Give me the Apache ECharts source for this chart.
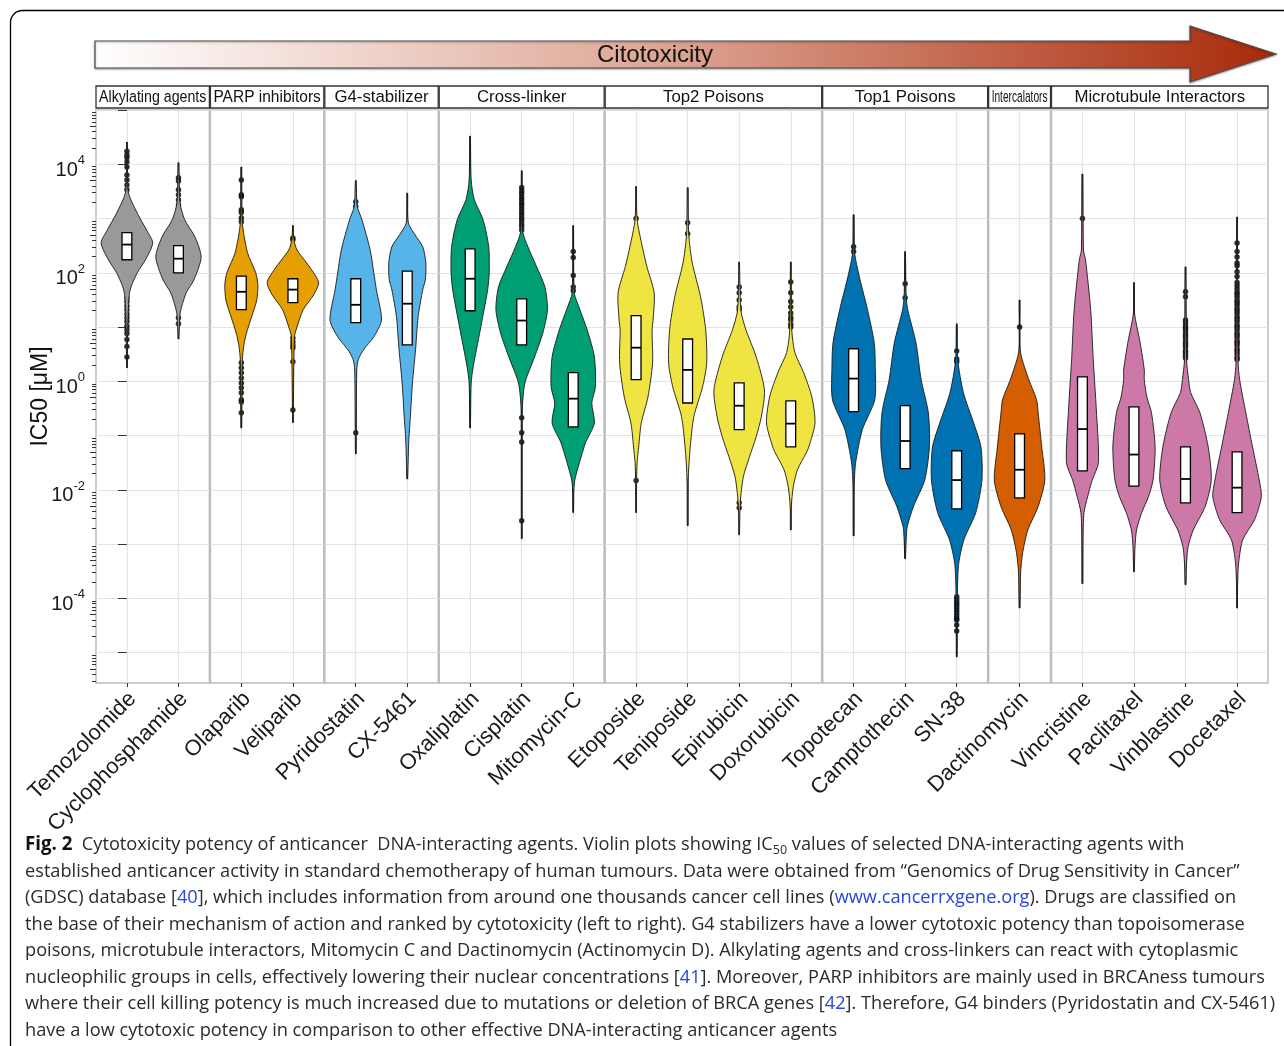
<!DOCTYPE html>
<html>
<head>
<meta charset="utf-8">
<title>Cytotoxicity potency of DNA-interacting agents</title>
<script src="https://cdn.jsdelivr.net/npm/echarts@6/dist/echarts.min.js"></script>
<style>
  html, body { margin: 0; padding: 0; background: #fff; }
  #chart { width: 1284px; height: 1046px; }
</style>
</head>
<body>
<div id="chart"></div>
<script>
// drugs in plotting order (left to right)
const drugs = ['Temozolomide', 'Cyclophosphamide', 'Olaparib', 'Veliparib', 'Pyridostatin', 'CX-5461',
  'Oxaliplatin', 'Cisplatin', 'Mitomycin-C', 'Etoposide', 'Teniposide', 'Epirubicin', 'Doxorubicin',
  'Topotecan', 'Camptothecin', 'SN-38', 'Dactinomycin', 'Vincristine', 'Paclitaxel', 'Vinblastine', 'Docetaxel'];

const facetNames = ['Alkylating agents', 'PARP inhibitors', 'G4-stabilizer', 'Cross-linker',
  'Top2 Poisons', 'Top1 Poisons', 'Intercalators', 'Microtubule Interactors'];
const facetSizes = [2, 2, 2, 3, 4, 3, 1, 4];
const facetColors = ['#999999', '#E69F00', '#56B4E9', '#009E73', '#F0E442', '#0072B2', '#D55E00', '#CC79A7'];

// all values are log10(IC50 / uM)
// [q1, median, q3]
const boxLog = [
  [2.24, 2.52, 2.74], [2.00, 2.26, 2.50], [1.32, 1.65, 1.94], [1.45, 1.69, 1.89],
  [1.08, 1.41, 1.89], [0.67, 1.43, 2.03], [1.30, 1.89, 2.44], [0.67, 1.12, 1.52],
  [-0.84, -0.32, 0.16], [0.03, 0.62, 1.21], [-0.40, 0.21, 0.78], [-0.89, -0.45, -0.03],
  [-1.21, -0.78, -0.36], [-0.56, 0.05, 0.60], [-1.61, -1.10, -0.45], [-2.35, -1.82, -1.28],
  [-2.15, -1.63, -0.97], [-1.65, -0.88, 0.08], [-1.93, -1.35, -0.47], [-2.24, -1.80, -1.21],
  [-2.42, -1.96, -1.30]
];

// [min, max]
const rangeLog = [
  [0.25, 4.41], [0.78, 4.03], [-0.86, 3.95], [-0.76, 2.87], [-1.34, 3.70], [-1.80, 3.47],
  [-0.86, 4.52], [-2.90, 3.88], [-2.42, 2.87], [-2.42, 3.59], [-2.66, 3.57], [-2.83, 2.20],
  [-2.74, 2.20], [-2.85, 3.07], [-3.27, 2.39], [-5.08, 1.06], [-4.18, 1.50], [-3.73, 3.82],
  [-3.51, 1.82], [-3.75, 2.11], [-4.18, 3.03]
];

const outlierLog = [
  [4.24, 4.17, 4.12, 4.04, 3.95, 3.80, 3.71, 3.62, 3.53, 1.54, 1.47, 1.39, 1.32, 1.24, 1.17, 1.10, 1.02, 0.95, 0.88, 0.77, 0.64, 0.45],
  [3.75, 3.69, 3.53, 3.44, 3.34, 3.25, 1.17, 1.06],
  [3.71, 3.44, 3.40, 3.16, 3.11, 3.01, 2.94, 0.34, 0.25, 0.16, 0.06, -0.03, -0.12, -0.21, -0.34, -0.38, -0.58],
  [2.64, 2.61, 0.80, 0.73, 0.67, 0.62, 0.36, -0.53],
  [3.31, 3.22, -0.95],
  [],
  [],
  [3.57, 3.51, 3.46, 3.40, 3.35, 3.29, 3.24, 3.18, 3.12, 3.07, 3.01, 2.96, 2.90, 2.85, 2.79, -0.67, -0.95, -1.12, -2.57],
  [2.39, 2.28, 1.95, 1.74, 1.67],
  [3.00, -1.83],
  [2.92, 2.72],
  [1.74, 1.63, 1.50, 1.37, 1.32, -2.24, -2.33],
  [1.83, 1.63, 1.47, 1.37, 1.26, 1.18, 1.13, 1.05, 1.00],
  [2.48, 2.39],
  [1.80, 1.54],
  [0.56, 0.41, 0.36, -3.97, -4.02, -4.07, -4.12, -4.17, -4.22, -4.27, -4.32, -4.37, -4.40, -4.49, -4.60],
  [1.00],
  [3.00],
  [],
  [1.65, 1.56, 1.13, 1.08, 1.02, 0.98, 0.93, 0.87, 0.83, 0.78, 0.72, 0.68, 0.63, 0.57, 0.53, 0.48, 0.43],
  [2.55, 2.39, 2.29, 2.18, 2.13, 2.02, 1.93, 1.82, 1.76, 1.70, 1.64, 1.60, 1.55, 1.49, 1.45, 1.40, 1.34, 1.30,
   1.25, 1.19, 1.15, 1.10, 1.04, 1.00, 0.95, 0.89, 0.85, 0.80, 0.74, 0.70, 0.65, 0.59, 0.55, 0.50, 0.44, 0.40]
];

// violin outline: [log10 value, half width in category units], top to bottom
const violinShape = [
  [[4.41, 0.005], [3.90, 0.01], [3.47, 0.03], [3.10, 0.2], [2.79, 0.38], [2.55, 0.5], [2.24, 0.36], [2.00, 0.2], [1.74, 0.08], [1.56, 0.04], [0.95, 0.015], [0.25, 0.005]],
  [[4.03, 0.005], [3.29, 0.03], [2.98, 0.12], [2.66, 0.32], [2.29, 0.44], [1.87, 0.3], [1.63, 0.15], [1.37, 0.06], [1.23, 0.03], [0.78, 0.005]],
  [[3.95, 0.005], [2.92, 0.02], [2.37, 0.12], [2.00, 0.28], [1.78, 0.32], [1.50, 0.3], [1.19, 0.2], [0.89, 0.1], [0.67, 0.05], [0.40, 0.02], [-0.86, 0.005]],
  [[2.87, 0.005], [2.61, 0.02], [2.42, 0.08], [2.24, 0.22], [2.06, 0.36], [1.82, 0.5], [1.59, 0.4], [1.32, 0.2], [1.00, 0.08], [0.82, 0.03], [-0.76, 0.005]],
  [[3.70, 0.005], [3.22, 0.03], [2.98, 0.12], [2.42, 0.28], [2.00, 0.35], [1.69, 0.4], [1.13, 0.5], [0.82, 0.35], [0.58, 0.15], [0.40, 0.05], [0.21, 0.02], [-1.34, 0.005]],
  [[3.47, 0.005], [2.92, 0.02], [2.70, 0.15], [2.48, 0.3], [2.18, 0.36], [1.87, 0.35], [1.69, 0.3], [1.19, 0.21], [0.58, 0.16], [-0.03, 0.1], [-0.65, 0.06], [-1.08, 0.03], [-1.80, 0.005]],
  [[4.52, 0.005], [3.71, 0.02], [3.35, 0.08], [2.98, 0.25], [2.48, 0.36], [2.00, 0.37], [1.69, 0.34], [1.37, 0.28], [0.77, 0.16], [0.27, 0.06], [-0.03, 0.02], [-0.86, 0.005]],
  [[3.88, 0.005], [2.76, 0.02], [2.48, 0.12], [2.11, 0.29], [1.74, 0.45], [1.32, 0.5], [0.89, 0.41], [0.45, 0.25], [0.03, 0.08], [-0.16, 0.04], [-0.53, 0.01], [-2.90, 0.005]],
  [[2.87, 0.005], [1.63, 0.02], [1.37, 0.11], [0.95, 0.27], [0.45, 0.41], [-0.10, 0.43], [-0.40, 0.36], [-0.77, 0.41], [-1.13, 0.24], [-1.50, 0.12], [-1.82, 0.03], [-2.06, 0.01], [-2.42, 0.005]],
  [[3.59, 0.005], [2.98, 0.02], [2.48, 0.12], [2.11, 0.21], [1.63, 0.35], [1.13, 0.33], [0.95, 0.31], [0.34, 0.32], [-0.29, 0.23], [-0.77, 0.1], [-1.21, 0.05], [-1.50, 0.02], [-1.82, 0.01], [-2.42, 0.005]],
  [[3.57, 0.005], [2.72, 0.02], [2.18, 0.09], [1.56, 0.25], [0.95, 0.35], [0.34, 0.37], [-0.10, 0.29], [-0.65, 0.12], [-1.21, 0.05], [-1.82, 0.01], [-2.66, 0.005]],
  [[2.20, 0.005], [1.50, 0.02], [1.26, 0.04], [0.95, 0.13], [0.45, 0.33], [-0.16, 0.49], [-0.65, 0.43], [-1.02, 0.33], [-1.39, 0.2], [-1.76, 0.08], [-2.24, 0.02], [-2.83, 0.005]],
  [[2.20, 0.005], [0.95, 0.02], [0.53, 0.08], [0.16, 0.25], [-0.29, 0.41], [-0.77, 0.47], [-1.21, 0.35], [-1.32, 0.3], [-1.63, 0.13], [-1.94, 0.05], [-2.31, 0.01], [-2.74, 0.005]],
  [[3.07, 0.005], [2.37, 0.02], [1.93, 0.11], [1.32, 0.27], [0.71, 0.4], [0.27, 0.42], [-0.34, 0.41], [-0.89, 0.17], [-1.50, 0.04], [-1.94, 0.01], [-2.85, 0.005]],
  [[2.39, 0.005], [1.56, 0.02], [1.32, 0.05], [0.71, 0.21], [0.03, 0.31], [-0.58, 0.45], [-1.21, 0.47], [-1.82, 0.38], [-2.31, 0.16], [-2.68, 0.04], [-2.92, 0.02], [-3.27, 0.005]],
  [[1.06, 0.005], [0.40, 0.02], [-0.21, 0.13], [-0.77, 0.33], [-1.21, 0.47], [-1.82, 0.49], [-2.42, 0.37], [-2.92, 0.14], [-3.35, 0.04], [-3.79, 0.015], [-4.40, 0.008], [-5.08, 0.005]],
  [[1.50, 0.005], [0.58, 0.01], [0.08, 0.16], [-0.34, 0.33], [-0.58, 0.36], [-1.21, 0.43], [-1.82, 0.49], [-2.31, 0.36], [-2.74, 0.16], [-3.16, 0.06], [-3.53, 0.02], [-4.18, 0.005]],
  [[3.82, 0.005], [2.42, 0.02], [2.24, 0.06], [1.32, 0.16], [0.40, 0.21], [-0.53, 0.27], [-1.50, 0.31], [-1.82, 0.19], [-2.13, 0.1], [-2.42, 0.03], [-2.92, 0.01], [-3.73, 0.005]],
  [[1.82, 0.005], [1.26, 0.01], [0.71, 0.12], [0.21, 0.2], [0.03, 0.2], [-0.29, 0.25], [-0.58, 0.34], [-1.21, 0.41], [-1.82, 0.37], [-2.13, 0.28], [-2.42, 0.15], [-2.74, 0.05], [-3.05, 0.02], [-3.51, 0.005]],
  [[2.11, 0.005], [0.40, 0.02], [0.03, 0.06], [-0.21, 0.1], [-0.58, 0.28], [-1.21, 0.44], [-1.82, 0.5], [-2.31, 0.38], [-2.74, 0.15], [-3.05, 0.05], [-3.35, 0.02], [-3.75, 0.005]],
  [[3.03, 0.005], [0.36, 0.02], [0.03, 0.05], [-0.58, 0.17], [-1.21, 0.3], [-1.82, 0.43], [-2.13, 0.47], [-2.55, 0.34], [-2.92, 0.11], [-3.35, 0.03], [-3.79, 0.01], [-4.18, 0.005]]
];

// y axis: decade ticks, labelled every second decade
const yTickExp = [-5, -4, -3, -2, -1, 0, 1, 2, 3, 4, 5];
const yLabelExp = [-4, -2, 0, 2, 4];
const yRangeExp = [-5.56, 5.0];

const captionLines = [
  '{b|Fig. 2}  Cytotoxicity potency of anticancer  DNA-interacting agents. Violin plots showing IC{sub|50} values of selected DNA-interacting agents with',
  'established anticancer activity in standard chemotherapy of human tumours. Data were obtained from “Genomics of Drug Sensitivity in Cancer”',
  '(GDSC) database [{a|40}], which includes information from around one thousands cancer cell lines ({a|www.cancerrxgene.org}). Drugs are classified on',
  'the base of their mechanism of action and ranked by cytotoxicity (left to right). G4 stabilizers have a lower cytotoxic potency than topoisomerase',
  'poisons, microtubule interactors, Mitomycin C and Dactinomycin (Actinomycin D). Alkylating agents and cross-linkers can react with cytoplasmic',
  'nucleophilic groups in cells, effectively lowering their nuclear concentrations [{a|41}]. Moreover, PARP inhibitors are mainly used in BRCAness tumours',
  'where their cell killing potency is much increased due to mutations or deletion of BRCA genes [{a|42}]. Therefore, G4 binders (Pyridostatin and CX-5461)',
  'have a low cytotoxic potency in comparison to other effective DNA-interacting anticancer agents'
];

const chart = echarts.init(document.getElementById('chart'));

const LEFT = 96, RIGHT = 1268, TOP = 110, BOTTOM = 683, GAP = 1;
const FONT = 'Liberation Sans, Arial, sans-serif';
const STRIP_FONT = 16.8;
const CAP_FONT = 18.2;
const totalUnits = facetSizes.reduce((s, n) => s + n + 0.2, 0);
const unit = (RIGHT - LEFT - GAP * (facetSizes.length - 1)) / totalUnits;
const yMin = Math.pow(10, yRangeExp[0]), yMax = Math.pow(10, yRangeExp[1]);
const pow10 = v => Math.pow(10, v);

// strip labels are squeezed horizontally when they do not fit their box
const measureCtx = document.createElement('canvas').getContext('2d');
measureCtx.font = STRIP_FONT + 'px ' + FONT;

function drawViolin(params, api, color) {
  const lx = api.value(0);
  const g = api.value(2);
  const pt = (dx, lv) => api.coord([lx + dx, pow10(lv)]);
  const shape = violinShape[g];
  const outline = shape.map(p => pt(p[1], p[0]))
    .concat(shape.slice().reverse().map(p => pt(-p[1], p[0])));
  const b = boxLog[g];
  const tl = pt(-0.095, b[2]), br = pt(0.095, b[0]);
  const m1 = pt(-0.095, b[1]), m2 = pt(0.095, b[1]);
  const top = pt(0, rangeLog[g][1]), bot = pt(0, rangeLog[g][0]);
  return {
    type: 'group',
    children: [
      { type: 'line', shape: { x1: top[0], y1: top[1], x2: bot[0], y2: bot[1] }, style: { stroke: '#000', lineWidth: 1.6 } },
      { type: 'polygon', shape: { points: outline, smooth: 0.25 }, style: { fill: color, stroke: '#1a1a1a', lineWidth: 0.9 } },
      { type: 'rect', shape: { x: tl[0], y: tl[1], width: br[0] - tl[0], height: br[1] - tl[1] }, style: { fill: '#fff', stroke: '#000', lineWidth: 1.3 } },
      { type: 'line', shape: { x1: m1[0], y1: m1[1], x2: m2[0], y2: m2[1] }, style: { stroke: '#000', lineWidth: 1.8 } }
    ]
  };
}

const grids = [], xAxes = [], yAxes = [], series = [], graphics = [];
let x0 = LEFT, start = 0;
facetSizes.forEach((n, f) => {
  const w = (n + 0.2) * unit;
  const names = drugs.slice(start, start + n);
  const idx = names.map((_, i) => i);
  const first = start;

  grids.push({
    left: x0, top: TOP, width: w, height: BOTTOM - TOP,
    show: true, backgroundColor: '#fff', borderColor: '#bcbcbc', borderWidth: 1.5,
    containLabel: false, outerBoundsMode: 'none'
  });

  xAxes.push({
    type: 'value', gridIndex: f, min: -0.6, max: n - 0.4,
    axisLine: { show: false },
    axisTick: { show: true, customValues: idx, length: 4, lineStyle: { color: '#333' } },
    axisLabel: {
      customValues: idx, rotate: 45, margin: 7,
      formatter: v => '{n|' + (names[Math.round(v)] || '') + '}',
      rich: { n: { fontSize: 22, color: '#1a1a1a', fontFamily: FONT, padding: [16, 0, 0, 0] } }
    },
    splitLine: { show: true, lineStyle: { color: '#e3e3e3', width: 1.2 } }
  });

  yAxes.push({
    type: 'log', logBase: 10, gridIndex: f, min: yMin, max: yMax,
    axisLine: { show: false },
    axisTick: { show: f === 0, customValues: yTickExp.map(pow10), length: 9, lineStyle: { color: '#333' } },
    axisLabel: {
      show: f === 0, customValues: yLabelExp.map(pow10), margin: 11, padding: [12, 0, 0, 0],
      formatter: v => '{b|10}{s|' + Math.round(Math.log10(v)) + '}',
      rich: {
        b: { fontSize: 20, color: '#1a1a1a', fontFamily: FONT },
        s: { fontSize: 13, color: '#1a1a1a', fontFamily: FONT, padding: [0, 0, 19, 0] }
      }
    },
    splitLine: { show: true, lineStyle: { color: '#e3e3e3', width: 1.2 } },
    name: f === 0 ? 'IC50 [μM]' : '',
    nameLocation: 'middle', nameRotate: 90, nameGap: 44, nameMoveOverlap: false,
    nameTextStyle: { fontSize: 23, color: '#111', fontFamily: FONT }
  });

  series.push({
    type: 'scatter', xAxisIndex: f, yAxisIndex: f, z: 2, silent: true,
    symbolSize: 5.5, itemStyle: { color: '#000' },
    data: [].concat(...names.map((_, i) => outlierLog[first + i].map(v => [i, pow10(v)])))
  });

  series.push({
    type: 'custom', xAxisIndex: f, yAxisIndex: f, z: 3, silent: true,
    data: names.map((_, i) => [i, 1, first + i]),
    encode: { x: 0, y: 1 },
    renderItem: (params, api) => drawViolin(params, api, facetColors[f])
  });

  // facet strip
  graphics.push({
    type: 'rect', shape: { x: x0, y: 86, width: w, height: 22 },
    style: { fill: '#fff', stroke: '#333', lineWidth: 1.3 }
  });
  const textW = measureCtx.measureText(facetNames[f]).width;
  graphics.push({
    type: 'text', x: x0 + w / 2, y: 97.5,
    scaleX: Math.min(1, (w - 6) / textW),
    style: { text: facetNames[f], fontSize: STRIP_FONT, fontFamily: FONT, fill: '#111', align: 'center', verticalAlign: 'middle' }
  });

  x0 += w + GAP;
  start += n;
});

// log minor ticks (2..9 in each decade) on the first panel
const minorTicks = [], midTicks = [];
for (let e = -6; e <= 4; e++) {
  [2, 3, 4, 6, 7, 8, 9].forEach(m => minorTicks.push(m * pow10(e)));
  midTicks.push(5 * pow10(e));
}
[[minorTicks, 4], [midTicks, 6]].forEach(([vals, len]) => {
  yAxes.push({
    type: 'log', logBase: 10, gridIndex: 0, min: yMin, max: yMax, position: 'left',
    axisLine: { show: false }, axisLabel: { show: false }, splitLine: { show: false },
    axisTick: { show: true, customValues: vals.filter(v => v >= yMin && v <= yMax), length: len, lineStyle: { color: '#333' } }
  });
});

// outer frame of the figure panel (rounded top-left corner)
graphics.push({
  type: 'rect', shape: { x: 10.5, y: 10.5, width: 1400, height: 1200, r: [12, 0, 0, 0] },
  style: { fill: 'none', stroke: '#000', lineWidth: 1.3 }, silent: true
});

// cytotoxicity arrow
graphics.push({
  type: 'polygon',
  shape: { points: [[95, 41], [1190, 41], [1190, 26], [1276, 54], [1190, 82], [1190, 68], [95, 68]] },
  style: {
    fill: {
      type: 'linear', x: 0, y: 0, x2: 1, y2: 0,
      colorStops: [
        { offset: 0, color: '#ffffff' },
        { offset: 0.5, color: '#dca18f' },
        { offset: 1, color: '#a82a0a' }
      ]
    },
    stroke: '#4d4d4d', lineWidth: 1.2,
    shadowBlur: 2, shadowColor: 'rgba(0,0,0,0.35)', shadowOffsetY: 1
  }
});
graphics.push({
  type: 'text', x: 655, y: 55,
  style: { text: 'Citotoxicity', fontSize: 24, fontFamily: FONT, fill: '#111', align: 'center', verticalAlign: 'middle' }
});

// caption
captionLines.forEach((t, i) => {
  graphics.push({
    type: 'text', x: 25, y: 845 + i * 26.5,
    style: {
      text: t, fontSize: CAP_FONT, fontFamily: 'Open Sans', fill: '#2b2b2b', verticalAlign: 'middle',
      rich: {
        b: { fontSize: CAP_FONT + 0.5, fontWeight: 'bold', fontFamily: 'Open Sans', fill: '#111' },
        a: { fontSize: CAP_FONT, fontFamily: 'Open Sans', fill: '#2646d9' },
        sub: { fontSize: 12.5, fontFamily: 'Open Sans', fill: '#2b2b2b', padding: [10, 0, 0, 0] }
      }
    }
  });
});

chart.setOption({
  animation: false,
  backgroundColor: '#fff',
  textStyle: { fontFamily: FONT },
  grid: grids,
  xAxis: xAxes,
  yAxis: yAxes,
  series: series,
  graphic: { elements: graphics }
});
</script>
</body>
</html>
